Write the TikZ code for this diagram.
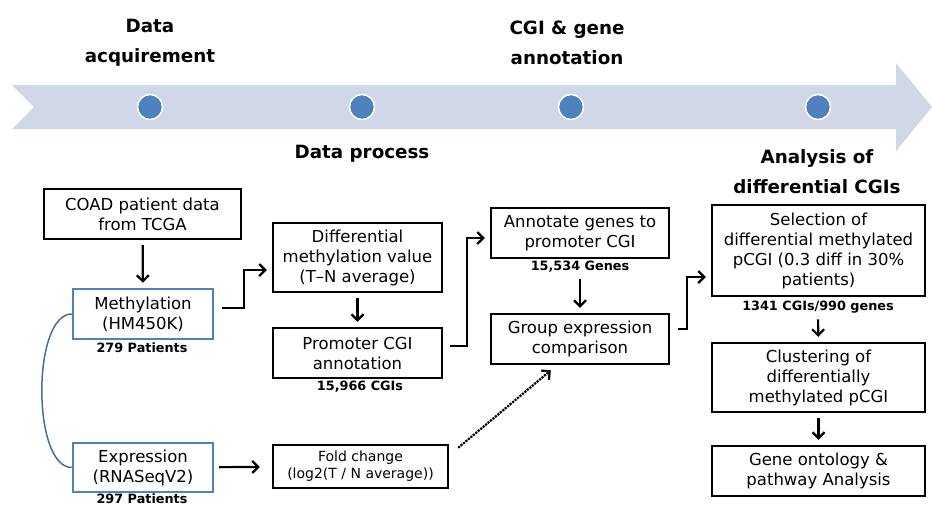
\documentclass[tikz,border=0pt]{standalone}
\usepackage{fontspec}
\setmainfont{DejaVu Sans}
\usepackage{xcolor}
\usepackage{tikz}
\usetikzlibrary{arrows.meta}
\definecolor{band}{RGB}{208, 215, 231}
\definecolor{dotblue}{RGB}{79, 129, 189}
\definecolor{linkblue}{RGB}{68, 108, 165}

\begin{document}
\begin{tikzpicture}[x=1pt, y=-1pt,
    box/.style={draw, line width=2.4pt, align=center, inner sep=0pt,
      font=\fontsize{16.5}{20}\selectfont},
    bluebox/.style={box, draw=dotblue},
    note/.style={font=\bfseries\fontsize{12.8}{14}\selectfont, inner sep=1pt},
    head/.style={font=\bfseries\fontsize{18.3}{30}\selectfont, align=center, inner sep=0pt},
    dot/.style={circle, fill=dotblue, draw=white, line width=1.5pt, minimum size=25pt, inner sep=0pt},
    arr/.style={line width=2.2pt, -{Straight Barb[length=6pt, width=12pt]}, shorten <=5pt, shorten >=5pt}]
  \useasboundingbox (0,0) rectangle (932,506);
  % timeline band
  \fill[band] (12,85) -- (896,85) -- (896,63) -- (932,107) -- (896,151)
    -- (896,129) -- (12,129) -- (34,107) -- cycle;
  \node[dot] (d1) at (150,107) {};
  \node[dot] (d2) at (362,107) {};
  \node[dot] (d3) at (571,107) {};
  \node[dot] (d4) at (818,107) {};
  \node[head] (h1) at (150,43) {Data\\acquirement};
  \node[head] (h2) at (362,154) {Data process};
  \node[head] (h3) at (567,43) {CGI \& gene\\annotation};
  \node[head] (h4) at (817,172) {Analysis of\\differential CGIs};
  % boxes
  \node[box, minimum width=197pt, minimum height=50pt] (coad) at (142.5,214) {COAD patient data\\from TCGA};
  \node[bluebox, minimum width=140pt, minimum height=50pt] (meth) at (143,314) {Methylation\\(HM450K)};
  \node[bluebox, minimum width=140pt, minimum height=49pt] (expr) at (143,467.5) {Expression\\(RNASeqV2)};
  \node[box, minimum width=169pt, minimum height=69pt] (diff) at (357.5,257.5) {Differential\\methylation value\\(T–N average)};
  \node[box, minimum width=169pt, minimum height=50pt] (prom) at (357.5,353) {Promoter CGI\\annotation};
  \node[box, minimum width=175pt, minimum height=43pt, font=\fontsize{14}{17}\selectfont] (fold) at (360.5,466.5) {Fold change\\(log2(T / N average))};
  \node[box, minimum width=178pt, minimum height=50pt] (annot) at (580,233) {Annotate genes to\\promoter CGI};
  \node[box, minimum width=178pt, minimum height=50pt] (group) at (580,339) {Group expression\\comparison};
  \node[box, minimum width=213pt, minimum height=91pt] (sel) at (818.5,250.5) {Selection of\\differential methylated\\pCGI (0.3 diff in 30\%\\patients)};
  \node[box, minimum width=213pt, minimum height=69pt] (clus) at (818.5,377.5) {Clustering of\\differentially\\methylated pCGI};
  \node[box, minimum width=213pt, minimum height=50pt] (gene) at (818.5,471) {Gene ontology \&\\pathway Analysis};
  % counts
  \node[note] (n279) at (142,348) {279 Patients};
  \node[note] (n297) at (142,499) {297 Patients};
  \node[note] (n15966) at (360,387) {15,966 CGIs};
  \node[note] (n15534) at (580,267) {15,534 Genes};
  \node[note] (n1341) at (818,307) {1341 CGIs/990 genes};
  % connectors
  \draw[arr] (coad) -- (meth);
  \draw[arr, shorten <=8pt] ([yshift=6pt]meth.east) -- ++(30,0) |- ([yshift=-12.5pt]diff.west);
  \draw[arr] (diff) -- (prom);
  \draw[arr, shorten <=7pt] ([yshift=7pt]prom.east) -- ++(24,0) |- ([yshift=-5pt]annot.west);
  \draw[arr] (n15534) -- (group);
  \draw[arr, shorten <=8pt] ([yshift=10pt]group.east) -- ++(17,0) |- ([yshift=-26.5pt]sel.west);
  \draw[arr] (n1341) -- (clus);
  \draw[arr] (clus) -- (gene);
  \draw[arr, shorten >=12pt] (expr) -- (fold);
  \draw[arr, densely dotted, shorten <=0pt, shorten >=8pt] ([shift={(9pt,-4pt)}]fold.north east) -- ([xshift=-23pt]group.south);
  \draw[linkblue, line width=1.5pt] (meth.west) to[out=180, in=180, distance=40pt] (expr.west);
\end{tikzpicture}
\end{document}
